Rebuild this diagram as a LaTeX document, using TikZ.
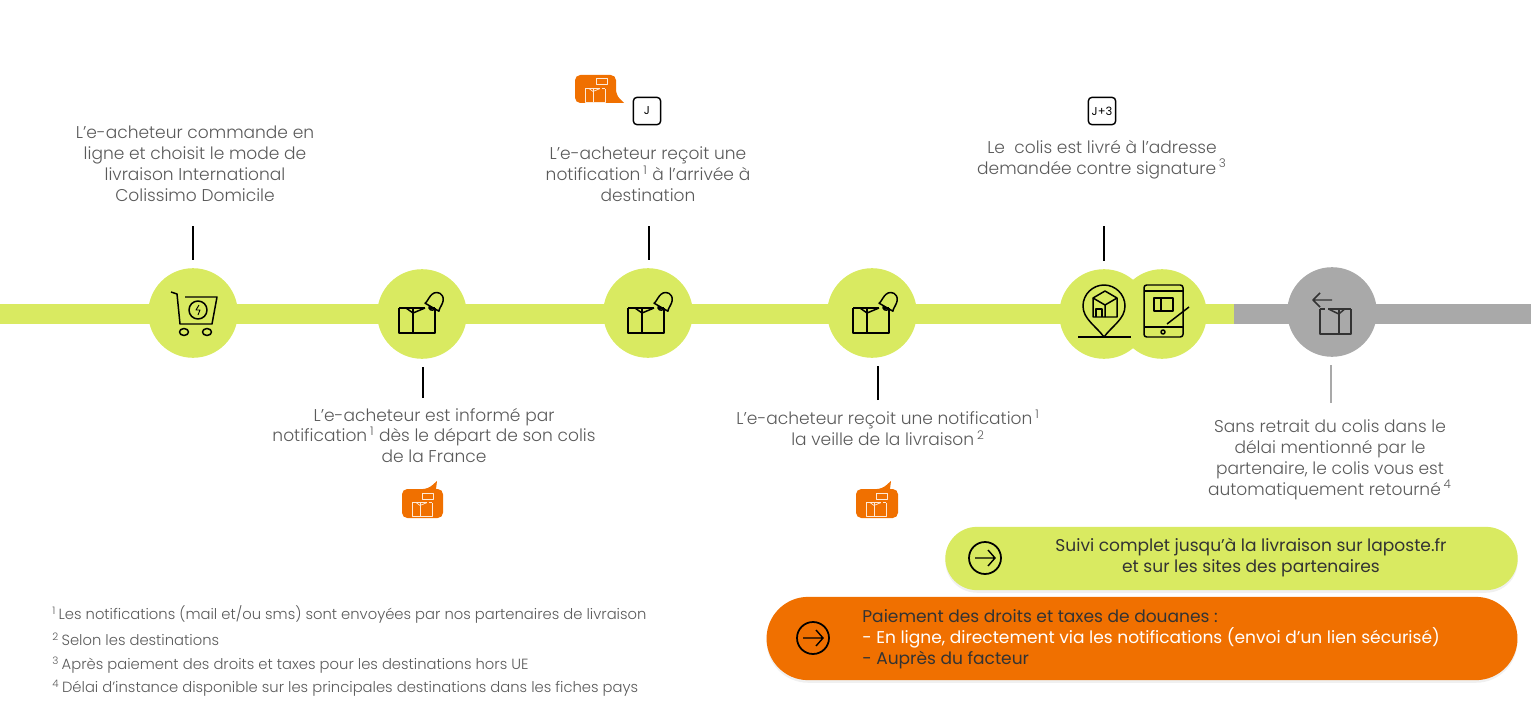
\documentclass[tikz,border=0pt]{standalone}
\usepackage{fontspec}
\setmainfont[UprightFont=* Light,BoldFont=*]{Poppins}
\usetikzlibrary{shapes.misc,shadows}
\definecolor{limebar}{HTML}{D9EA61}
\definecolor{greybar}{HTML}{A9A9A9}
\definecolor{orangepost}{HTML}{F07000}
\definecolor{textgrey}{HTML}{5A5A5A}
\tikzset{
  stepdot/.style={circle,fill=limebar,minimum size=51pt,inner sep=0pt,outer sep=4.5pt},
  lastdot/.style={stepdot,fill=greybar},
  bar/.style={line width=11.3pt},
  tick/.style={line width=0.75pt,black},
  icon/.style={draw=#1,line width=0.85pt,line join=round},
  icon/.default=black,
  labeltext/.style={align=center,text=textgrey,font=\fontsize{9.7}{11.9}\selectfont,inner sep=0pt},
  pilltext/.style={labeltext,text=black!80,font=\fontsize{9.7}{11.9}\selectfont\bfseries},
  notetext/.style={anchor=west,text=textgrey,font=\fontsize{8.4}{9}\selectfont,inner sep=0pt},
  daytag/.style={draw=black,line width=0.8pt,rounded corners=2pt,minimum size=15.5pt,inner sep=0pt,font=\fontsize{6.5}{6.5}\selectfont\bfseries},
  pill/.style={rounded rectangle,inner sep=0pt,drop shadow={opacity=.12,shadow xshift=0pt,shadow yshift=-1.5pt}},
  packet/.pic={
    \draw[pic actions] (-23,-6) -- (3,-6) (13,-6) -- (7,-6);
    \draw[pic actions] (-23,-6) -- (-23,19) -- (13,19) -- (13,-6);
    \draw[pic actions] (-9,-6) -- (-9,19);
    \draw[pic actions] (-16,-6) -- (-9,-1) -- (3,-6);
  },
  bell/.pic={
    \draw[pic actions,rotate=-30] (-8,6) .. controls (-6,3) and (-10,-9) .. (0,-10) .. controls (10,-9) and (6,3) .. (8,6) -- cycle;
    \draw[pic actions,rotate=-30] (-3,6) .. controls (-3,10) and (3,10) .. (3,6);
  },
  arrowdot/.pic={
    \draw[line width=1pt,black] (0,0) circle (16);
    \draw[line width=0.8pt,black] (-10,0) -- (10,0) (3,-8) -- (10,0) -- (3,8);
  },
}
\begin{document}
\begin{tikzpicture}[x=0.02cm,y=-0.02cm]
  \useasboundingbox (0,0) rectangle (1531,706);

  % Timeline
  \coordinate (barstart) at (0,314);
  \coordinate (barmid) at (1234,314);
  \coordinate (barend) at (1531,314);
  \draw[bar,limebar] (barstart) -- (barmid);
  \draw[bar,greybar] (barmid) -- (barend);

  \node[stepdot] (order) at (193,313) {};
  \node[stepdot] (leave) at (422,314) {};
  \node[stepdot] (arrive) at (648,313) {};
  \node[stepdot] (eve) at (872,313) {};
  \node[stepdot] (deliver) at (1104,314) {};
  \node[stepdot] (sign) at (1162,314) {};
  \node[lastdot] (back) at (1332,312) {};

  % Cart
  \draw[icon] (171,292) -- (177,294) -- (180,324) -- (212,324) -- (217,297) -- (185,297);
  \draw[icon] (198,310) circle (9);
  \draw[icon,line width=0.5pt] (199,305) -- (196,310) -- (200,310) -- (198,315);
  \draw[icon] (184,332) ellipse (4.5 and 3.5);
  \draw[icon] (207,332) ellipse (4.5 and 3.5);

  % Parcels
  \pic[icon] at (422,314) {packet};
  \pic[icon] at (435,302) {bell};
  \pic[icon] at (651,314) {packet};
  \pic[icon] at (664,302) {bell};
  \pic[icon] at (876,314) {packet};
  \pic[icon] at (889,302) {bell};

  % Pin
  \draw[icon] (1104,337) .. controls (1096,326) and (1083,319) .. (1083,306) .. controls (1083,294) and (1093,285) .. (1104,285) .. controls (1115,285) and (1125,294) .. (1125,306) .. controls (1125,319) and (1112,326) .. (1104,337);
  \draw[icon] (1078,337) -- (1131,337);
  \draw[icon] (1093,298) -- (1105,291) -- (1117,298) -- (1117,317) -- (1093,317) -- cycle;
  \draw[icon] (1093,298) -- (1105,305) -- (1117,298) (1105,305) -- (1105,317);
  \draw[icon] (1096,317) -- (1096,309) -- (1102,309) -- (1102,317);

  % Tablet
  \draw[icon,rounded corners=1.5pt] (1144,285) rectangle (1183,337);
  \draw[icon] (1144,291) -- (1183,291) (1144,327) -- (1183,327);
  \draw[icon] (1163,332) circle (2);
  \draw[icon] (1154,298) rectangle (1173,311);
  \draw[icon] (1161,298) -- (1161,311);
  \draw[icon] (1167,324) -- (1189,307);

  % Return
  \pic[icon=black!80,xscale=-.86] at (1331,315) {packet};
  \draw[icon=black!80] (1332,300) -- (1313,300) (1320,293) -- (1313,300) -- (1320,307);

  % Labels
  \node[labeltext] (ordertext) at (195,163.5) {L’e-acheteur commande en\\ligne et choisit le mode de\\livraison International\\Colissimo Domicile};
  \node[labeltext] (leavetext) at (434,435.5) {L’e-acheteur est informé par\\notification\,\textsuperscript{1} dès le départ de son colis\\de la France};
  \node[labeltext] (arrivetext) at (648,174.5) {L’e-acheteur reçoit une\\notification\,\textsuperscript{1} à l’arrivée à\\destination};
  \node[labeltext] (evetext) at (888,428) {L’e-acheteur reçoit une notification\,\textsuperscript{1}\\la veille de la livraison\,\textsuperscript{2}};
  \node[labeltext] (delivertext) at (1102,159.5) {Le\ \ colis est livré à l’adresse\\demandée contre signature\,\textsuperscript{3}};
  \node[labeltext] (backtext) at (1330,459.5) {Sans retrait du colis dans le\\délai mentionné par le\\partenaire, le colis vous est\\automatiquement retourné\,\textsuperscript{4}};

  % Ticks
  \coordinate (ordertop) at (193,226);
  \coordinate (leavelow) at (423,398);
  \coordinate (arrivetop) at (649,226);
  \coordinate (evelow) at (878,400);
  \coordinate (delivertop) at (1104,226);
  \coordinate (backlow) at (1331,403);
  \draw[tick] (ordertop) -- (order.north);
  \draw[tick] (leavelow) -- (leavelow |- leave.south);
  \draw[tick] (arrivetop) -- (arrivetop |- arrive.north);
  \draw[tick] (evelow) -- (evelow |- eve.south);
  \draw[tick] (delivertop) -- (deliver.north);
  \draw[tick,greybar] (backlow) -- (backlow |- back.south);

  % Day tags
  \node[daytag] (dayj) at (647,111) {J};
  \node[daytag] (dayk) at (1102,111) {J+3};

  % Bubbles
  \fill[orangepost,rounded corners=3pt] (575,75) -- (616,75) -- (616,95) [sharp corners] -- (624,103) [rounded corners=3pt] -- (575,103) -- cycle;
  \pic[icon=white!85!orangepost,scale=.55,line width=0.4pt] at (598,92) {packet};
  \draw[icon=white!85!orangepost,line width=0.4pt] (596,78) rectangle (607,84);
  \fill[orangepost,rounded corners=3pt] (402,489) -- (428,489) [sharp corners] -- (437,481) -- (436,489) [rounded corners=3pt] -- (443,489) -- (443,518) -- (402,518) -- cycle;
  \pic[icon=white!85!orangepost,scale=.55,line width=0.4pt] at (425,506) {packet};
  \draw[icon=white!85!orangepost,line width=0.4pt] (422,493) rectangle (433,499);
  \fill[orangepost,rounded corners=3pt] (856,489) -- (882,489) [sharp corners] -- (891,481) -- (890,489) [rounded corners=3pt] -- (898,489) -- (898,518) -- (856,518) -- cycle;
  \pic[icon=white!85!orangepost,scale=.55,line width=0.4pt] at (879,506) {packet};
  \draw[icon=white!85!orangepost,line width=0.4pt] (876,493) rectangle (887,499);

  % Pills
  \node[pill,fill=limebar,minimum width=325.8pt,minimum height=36pt] (trackpill) at (1231.5,558.5) {};
  \node[pill,fill=orangepost,minimum width=427.4pt,minimum height=47.4pt] (paypill) at (1142,638.5) {};
  \pic at (985,558) {arrowdot};
  \pic at (813,638) {arrowdot};
  \node[pilltext] (tracktext) at (1251,558) {Suivi complet jusqu’à la livraison sur laposte.fr\\et sur les sites des partenaires};
  \node[pilltext,anchor=west,align=left] (paytext) at (862,639.5) {Paiement des droits et taxes de douanes :\\\textcolor{white}{- En ligne, directement via les notifications (envoi d'un lien sécurisé)}\\- Auprès du facteur};

  % Notes
  \node[notetext] (noteone) at (52,614) {\textsuperscript{1}\,Les notifications (mail et/ou sms) sont envoyées par nos partenaires de livraison};
  \node[notetext] (notetwo) at (52,639.5) {\textsuperscript{2}\,Selon les destinations};
  \node[notetext] (notethree) at (52,665) {\textsuperscript{3}\,Après paiement des droits et taxes pour les destinations hors UE};
  \node[notetext] (notefour) at (52,688) {\textsuperscript{4}\,Délai d’instance disponible sur les principales destinations dans les fiches pays};
\end{tikzpicture}
\end{document}
